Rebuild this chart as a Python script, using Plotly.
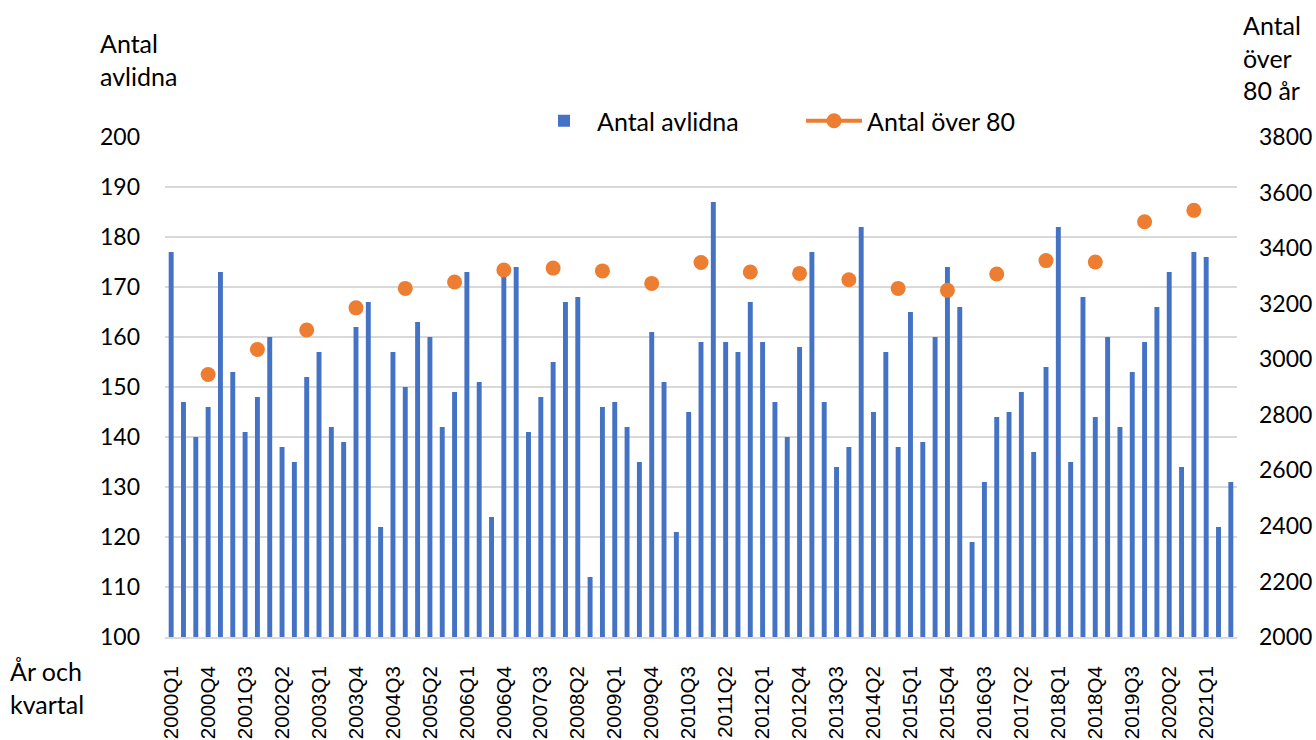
import plotly.graph_objects as go

years = list(range(2000, 2022))
quarter_names = ["Q1", "Q2", "Q3", "Q4"]
quarters = [f"{y}{q}" for y in years for q in quarter_names][:87]  # 2000Q1 .. 2021Q3

antal_avlidna = [
    177, 147, 140, 146, 173, 153, 141, 148, 160, 138, 135, 152,
    157, 142, 139, 162, 167, 122, 157, 150, 163, 160, 142, 149,
    173, 151, 124, 173, 174, 141, 148, 155, 167, 168, 112, 146,
    147, 142, 135, 161, 151, 121, 145, 159, 187, 159, 157, 167,
    159, 147, 140, 158, 177, 147, 134, 138, 182, 145, 157, 138,
    165, 139, 160, 174, 166, 119, 131, 144, 145, 149, 137, 154,
    182, 135, 168, 144, 160, 142, 153, 159, 166, 173, 134, 177,
    176, 122, 131,
]

over80_years = list(range(2000, 2021))
antal_over_80 = [
    2945, 3035, 3105, 3185, 3255, 3278, 3321, 3328, 3318, 3273, 3348,
    3314, 3309, 3286, 3255, 3248, 3307, 3355, 3350, 3495, 3536,
]

tick_labels = quarters[::3]

# place annual values at the Q4 category of each year, gaps elsewhere
over80_map = {f"{y}Q4": v for y, v in zip(over80_years, antal_over_80)}
over80_series = [over80_map.get(q) for q in quarters]

BLUE = "#4472C4"
ORANGE = "#ED7D31"
GRID = "#D9D9D9"
FONT = "Lato"

W, H = 1316, 740
L, T = 165, 137
PW, PH = 1072, 500


def px_x(page_x):
    return (page_x - L) / PW


def px_y(page_y):
    return (T + PH - page_y) / PH


fig = go.Figure()
fig.add_trace(go.Bar(
    x=quarters, y=antal_avlidna, name="Antal avlidna",
    marker=dict(color=BLUE, line=dict(width=0)),
))
fig.add_trace(go.Scatter(
    x=quarters, y=over80_series, name="Antal över 80", yaxis="y2",
    mode="lines+markers", connectgaps=False,
    line=dict(color=ORANGE, width=4),
    marker=dict(color=ORANGE, size=15),
))

fig.update_layout(
    width=W, height=H,
    margin=dict(l=L, r=W - L - PW, t=T, b=H - T - PH, pad=0, autoexpand=False),
    paper_bgcolor="white", plot_bgcolor="white",
    bargap=0.6,
    font=dict(family=FONT, size=25, color="black"),
    showlegend=True,
    legend=dict(
        orientation="h", x=px_x(531), y=px_y(121), xanchor="left", yanchor="middle",
        font=dict(family=FONT, size=25, color="black"),
        itemwidth=56, entrywidth=199, bgcolor="rgba(0,0,0,0)",
    ),
    xaxis=dict(
        type="category", range=[-0.5, len(quarters) - 0.5],
        tickmode="array", tickvals=tick_labels, ticktext=tick_labels,
        tickangle=-90, tickfont=dict(family="Liberation Sans", size=20.5, color="black"),
        showgrid=False, showline=True, linecolor=GRID, linewidth=2,
        ticks="", ticklabelstandoff=19, automargin=False,
    ),
    yaxis=dict(
        range=[100, 200], dtick=10, tick0=100,
        showgrid=True, gridcolor=GRID, gridwidth=2,
        zeroline=False, showline=False, ticks="",
        ticklabelstandoff=24, automargin=False,
        tickfont=dict(family=FONT, size=23, color="black"),
    ),
    yaxis2=dict(
        range=[2000, 3800], dtick=200, tick0=2000,
        overlaying="y", side="right",
        showgrid=False, zeroline=False, showline=False, ticks="",
        ticklabelstandoff=21, automargin=False,
        tickfont=dict(family=FONT, size=23, color="black"),
    ),
    annotations=[
        dict(text="Antal<br>avlidna", xref="paper", yref="paper",
             x=px_x(98), y=px_y(26), xanchor="left", yanchor="top",
             align="left", showarrow=False, font=dict(family=FONT, size=25)),
        dict(text="Antal<br>över<br>80 år", xref="paper", yref="paper",
             x=px_x(1241), y=px_y(8), xanchor="left", yanchor="top",
             align="left", showarrow=False, font=dict(family=FONT, size=25)),
        dict(text="År och<br>kvartal", xref="paper", yref="paper",
             x=px_x(8), y=px_y(654), xanchor="left", yanchor="top",
             align="left", showarrow=False, font=dict(family=FONT, size=25)),
    ],
)

fig.write_html(
    "out.html",
    config={"displayModeBar": False},
    post_script="document.body.style.margin='0';document.body.style.overflow='hidden';",
)
